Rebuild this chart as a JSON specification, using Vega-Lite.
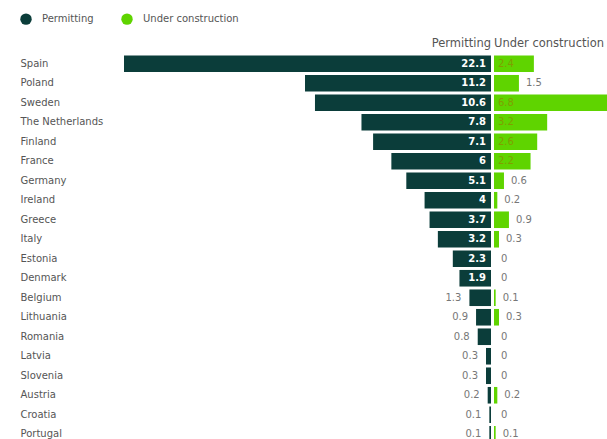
{
  "$schema": "https://vega.github.io/schema/vega-lite/v6.json",
  "padding": {"left": 20, "top": 13, "right": 0, "bottom": 0},
  "autosize": {"type": "pad"},
  "spacing": 3,
  "data": {"values": [
    {"country": "Spain", "permitting": 22.1, "construction": 2.4},
    {"country": "Poland", "permitting": 11.2, "construction": 1.5},
    {"country": "Sweden", "permitting": 10.6, "construction": 6.8},
    {"country": "The Netherlands", "permitting": 7.8, "construction": 3.2},
    {"country": "Finland", "permitting": 7.1, "construction": 2.6},
    {"country": "France", "permitting": 6, "construction": 2.2},
    {"country": "Germany", "permitting": 5.1, "construction": 0.6},
    {"country": "Ireland", "permitting": 4, "construction": 0.2},
    {"country": "Greece", "permitting": 3.7, "construction": 0.9},
    {"country": "Italy", "permitting": 3.2, "construction": 0.3},
    {"country": "Estonia", "permitting": 2.3, "construction": 0},
    {"country": "Denmark", "permitting": 1.9, "construction": 0},
    {"country": "Belgium", "permitting": 1.3, "construction": 0.1},
    {"country": "Lithuania", "permitting": 0.9, "construction": 0.3},
    {"country": "Romania", "permitting": 0.8, "construction": 0},
    {"country": "Latvia", "permitting": 0.3, "construction": 0},
    {"country": "Slovenia", "permitting": 0.3, "construction": 0},
    {"country": "Austria", "permitting": 0.2, "construction": 0.2},
    {"country": "Croatia", "permitting": 0.1, "construction": 0},
    {"country": "Portugal", "permitting": 0.1, "construction": 0.1}
  ]},
  "config": {"view": {"stroke": null}, "font": "DejaVu Sans"},
  "resolve": {"scale": {"x": "independent", "y": "shared", "color": "shared"}},
  "hconcat": [
    {
      "width": 367,
      "height": 390,
      "title": {"text": "Permitting", "anchor": "end", "fontSize": 11.5, "fontWeight": "normal", "color": "#555", "offset": 5},
      "encoding": {
        "y": {"field": "country", "type": "nominal", "sort": null,
          "scale": {"paddingInner": 0.15, "paddingOuter": 0.075},
          "axis": {"title": null, "domain": false, "ticks": false, "labelAlign": "left", "labelPadding": 104, "labelFontSize": 10, "labelColor": "#555"}}
      },
      "layer": [
        {
          "mark": {"type": "bar"},
          "encoding": {
            "x": {"field": "permitting", "type": "quantitative", "scale": {"domain": [0, 22.1], "reverse": true, "nice": false}, "axis": null},
            "color": {"datum": "Permitting",
              "scale": {"domain": ["Permitting", "Under construction"], "range": ["#0b3d3a", "#5fd400"]},
              "legend": {"title": null, "orient": "none", "direction": "horizontal", "legendX": -104, "legendY": -41, "symbolType": "circle", "symbolSize": 130, "symbolStrokeWidth": 0, "labelFontSize": 10, "labelColor": "#555", "labelOffset": 10, "columnPadding": 27}}
          }
        },
        {
          "transform": [{"filter": "datum.permitting >= 1.5"}],
          "mark": {"type": "text", "align": "right", "baseline": "middle", "dx": -5, "color": "white", "fontWeight": "bold", "fontSize": 10},
          "encoding": {"x": {"datum": 0, "type": "quantitative"}, "text": {"field": "permitting", "type": "nominal"}}
        },
        {
          "transform": [{"filter": "datum.permitting < 1.5"}],
          "mark": {"type": "text", "align": "right", "baseline": "middle", "dx": -8, "color": "#777", "fontSize": 10},
          "encoding": {"x": {"field": "permitting", "type": "quantitative"}, "text": {"field": "permitting", "type": "nominal"}}
        }
      ]
    },
    {
      "width": 113,
      "height": 390,
      "title": {"text": "Under construction", "anchor": "start", "fontSize": 11.5, "fontWeight": "normal", "color": "#555", "offset": 5},
      "encoding": {
        "y": {"field": "country", "type": "nominal", "sort": null, "axis": null}
      },
      "layer": [
        {
          "mark": {"type": "bar"},
          "encoding": {
            "x": {"field": "construction", "type": "quantitative", "scale": {"domain": [0, 6.8], "nice": false}, "axis": null},
            "color": {"datum": "Under construction"}
          }
        },
        {
          "transform": [{"filter": "datum.construction >= 2"}],
          "mark": {"type": "text", "align": "left", "baseline": "middle", "dx": 4, "color": "#7f9f00", "fontSize": 10},
          "encoding": {"x": {"datum": 0, "type": "quantitative"}, "text": {"field": "construction", "type": "nominal"}}
        },
        {
          "transform": [{"filter": "datum.construction < 2"}],
          "mark": {"type": "text", "align": "left", "baseline": "middle", "dx": 7, "color": "#777", "fontSize": 10},
          "encoding": {"x": {"field": "construction", "type": "quantitative"}, "text": {"field": "construction", "type": "nominal"}}
        }
      ]
    }
  ]
}
